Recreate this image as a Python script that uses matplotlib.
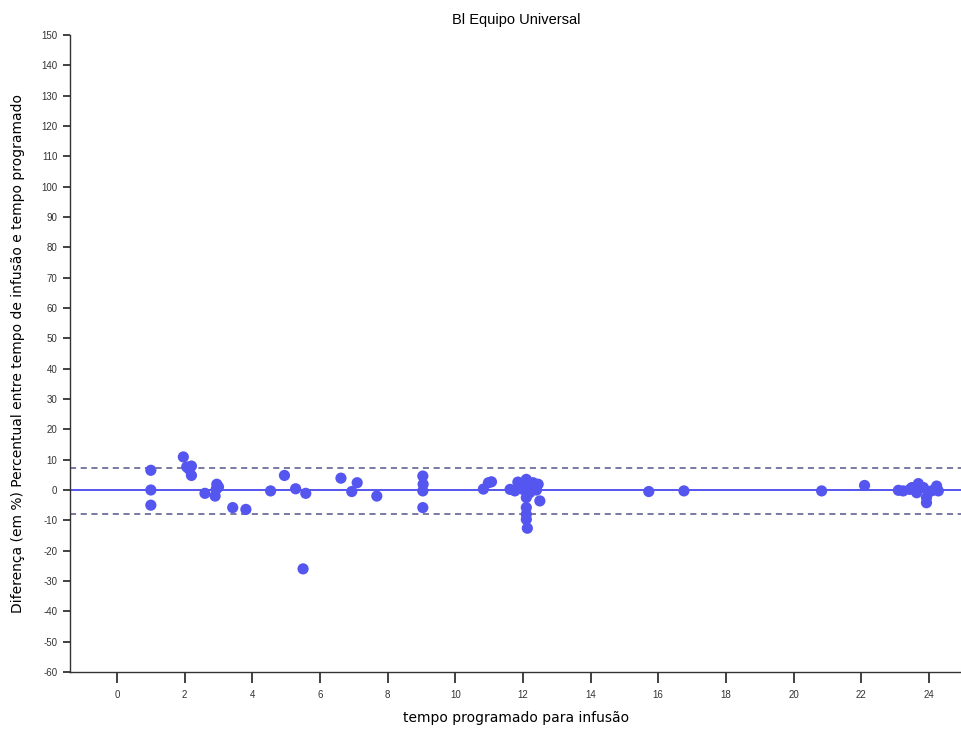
import matplotlib
matplotlib.use("Agg")
import matplotlib.pyplot as plt
import numpy as np

plt.rcParams['font.family'] = ['Liberation Sans', 'DejaVu Sans']

title = "Bl Equipo Universal"
xlabel = "tempo programado para infusão"
ylabel = "Diferença (em %) Percentual entre tempo de infusão e tempo programado"

x_vals = [1.0, 1.0, 1.0, 1.96, 2.06, 2.2, 2.2, 2.13, 2.6, 2.95, 2.93, 2.9, 3.0,
          3.42, 3.81, 4.54, 4.95, 5.28, 5.58, 5.5, 6.62, 7.1, 6.94, 7.68,
          9.04, 9.05, 9.04, 9.04, 10.83, 10.98, 11.07,
          11.62, 11.76, 11.9, 12.1, 12.3, 12.45, 12.5, 12.1, 12.1, 12.1, 12.13,
          12.0, 12.2, 12.1, 12.36, 11.85, 12.2, 12.4,
          15.72, 16.76, 20.83, 22.1,
          23.1, 23.24, 23.44, 23.69, 23.64, 23.84, 23.93, 23.93, 24.08, 24.23,
          24.28, 23.5]
y_vals = [6.5, 0.0, -5.0, 10.9, 7.6, 7.9, 4.8, 6.9, -1.1, 1.9, 0.2, -2.0, 1.0,
          -5.8, -6.4, -0.3, 4.8, 0.4, -1.1, -26.0, 3.9, 2.4, -0.5, -2.0,
          4.6, 1.9, -0.3, -5.8, 0.3, 2.4, 2.7,
          0.2, -0.3, 1.9, 3.5, 2.4, 1.9, -3.6, -5.8, -8.0, -9.7, -12.6,
          0.2, -0.9, -2.5, 0.8, 2.6, 1.2, 0.0,
          -0.5, -0.3, -0.3, 1.5,
          -0.1, -0.3, 0.2, 2.1, -0.9, 0.8, -2.5, -4.2, -0.3, 1.3,
          -0.3, 0.8]

mean_line = 0.0
upper_limit = 7.3
lower_limit = -7.8

x_ticks = list(range(0, 25, 2))
y_ticks = list(range(-60, 151, 10))

fig = plt.figure(figsize=(9.62, 7.31), dpi=100)
ax = fig.add_axes([70/962, 1 - 672/731, 1 - 70/962, (672 - 35)/731])

blue = '#5555f0'
ax.scatter(x_vals, y_vals, s=65, color=blue, edgecolors='none', zorder=3)
ax.axhline(mean_line, color=blue, lw=1.4, zorder=2)
ax.axhline(upper_limit, color='#55558a', lw=1.1, ls=(0, (4, 3)), zorder=2)
ax.axhline(lower_limit, color='#55558a', lw=1.1, ls=(0, (4, 3)), zorder=2)

ax.set_xlim(-1.39, 24.98)
ax.set_ylim(-60, 150)
ax.set_xticks(x_ticks)
ax.set_yticks(y_ticks)
ax.set_xticklabels([str(t) for t in x_ticks])
ax.set_yticklabels([str(t) for t in y_ticks])

for s in ['top', 'right']:
    ax.spines[s].set_visible(False)
for s in ['left', 'bottom']:
    ax.spines[s].set_color('#333333')
    ax.spines[s].set_linewidth(1.0)

ax.tick_params(axis='y', direction='out', length=5, width=1.3, labelsize=7,
               colors='#333333', pad=4)
ax.tick_params(axis='x', direction='out', length=8, width=1.3, labelsize=7,
               colors='#333333', pad=5)

ax.set_title(title, fontsize=10.5, pad=8)
ax.set_xlabel(xlabel, fontsize=10, labelpad=8, family=['DejaVu Sans'])
ax.set_ylabel(ylabel, fontsize=10, labelpad=12, family=['DejaVu Sans'])

fig.savefig("out.png", dpi=100)
